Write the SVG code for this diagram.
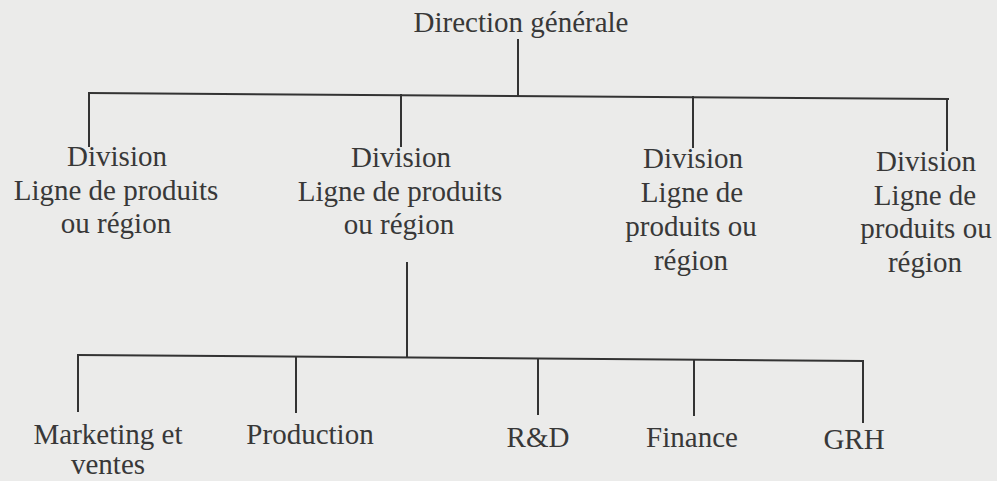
<svg xmlns="http://www.w3.org/2000/svg" width="997" height="481" viewBox="0 0 997 481">
  <style>
    .bg { fill: #ebebea; }
    .lbl { font-family: 'Liberation Serif', Tinos, 'Times New Roman', 'DejaVu Serif', serif; font-size: 29px; fill: #383838; text-anchor: middle; }
    .wire { stroke: #333333; stroke-width: 2; fill: none; stroke-linecap: square; }
  </style>
  <rect class="bg" x="0" y="0" width="997" height="481"/>

  <!-- Connectors -->
  <g id="connectors">
    <!-- Direction générale to divisions -->
    <line class="wire" x1="518" y1="40" x2="518" y2="96"/>
    <line class="wire" x1="89" y1="93" x2="948" y2="99"/>
    <line class="wire" x1="89" y1="93" x2="89" y2="146"/>
    <line class="wire" x1="401" y1="95" x2="401" y2="146"/>
    <line class="wire" x1="693" y1="97" x2="693" y2="147"/>
    <line class="wire" x1="947" y1="99" x2="947" y2="150"/>
    <!-- Division to functional departments -->
    <line class="wire" x1="407" y1="263" x2="407" y2="357"/>
    <line class="wire" x1="78" y1="355" x2="863" y2="361"/>
    <line class="wire" x1="78" y1="355" x2="78" y2="411"/>
    <line class="wire" x1="296" y1="357" x2="296" y2="412"/>
    <line class="wire" x1="538" y1="359" x2="538" y2="414"/>
    <line class="wire" x1="694" y1="360" x2="694" y2="415"/>
    <line class="wire" x1="863" y1="361" x2="863" y2="422"/>
  </g>

  <g id="direction-generale">
    <text class="lbl" x="521" y="32">Direction générale</text>
  </g>

  <g id="division-1">
    <text class="lbl" x="117" y="166">Division</text>
    <text class="lbl" x="116" y="200">Ligne de produits</text>
    <text class="lbl" x="116" y="233">ou région</text>
  </g>

  <g id="division-2">
    <text class="lbl" x="401" y="167">Division</text>
    <text class="lbl" x="400" y="201">Ligne de produits</text>
    <text class="lbl" x="399" y="234">ou région</text>
  </g>

  <g id="division-3">
    <text class="lbl" x="693" y="168">Division</text>
    <text class="lbl" x="692" y="202">Ligne de</text>
    <text class="lbl" x="691" y="236">produits ou</text>
    <text class="lbl" x="691" y="270">région</text>
  </g>

  <g id="division-4">
    <text class="lbl" x="926" y="171">Division</text>
    <text class="lbl" x="925" y="205">Ligne de</text>
    <text class="lbl" x="926" y="238">produits ou</text>
    <text class="lbl" x="925" y="272">région</text>
  </g>

  <g id="marketing">
    <text class="lbl" x="108" y="444">Marketing et</text>
    <text class="lbl" x="108" y="474">ventes</text>
  </g>

  <g id="production">
    <text class="lbl" x="310" y="444">Production</text>
  </g>

  <g id="rd">
    <text class="lbl" x="538" y="447">R&amp;D</text>
  </g>

  <g id="finance">
    <text class="lbl" x="692" y="447">Finance</text>
  </g>

  <g id="grh">
    <text class="lbl" x="854" y="449">GRH</text>
  </g>
</svg>
